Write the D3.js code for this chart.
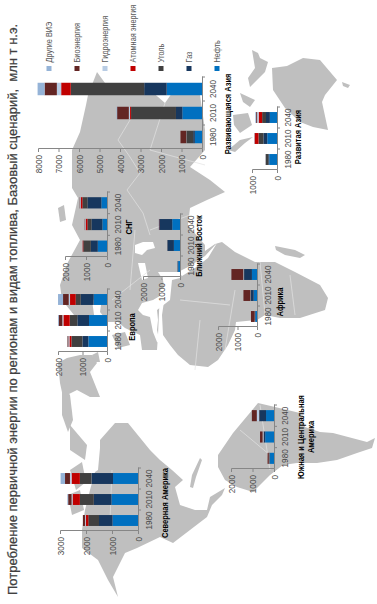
<!DOCTYPE html>
<html>
<head>
<meta charset="utf-8">
<script src="https://cdn.jsdelivr.net/npm/d3@7"></script>
<style>
  html, body { margin: 0; padding: 0; background: #fff; }
  svg { display: block; font-family: "Liberation Sans", Arial, sans-serif; }
  .axis path, .axis line { stroke: #868686; }
  .axis text { fill: #4a4a4a; font-size: 9.5px; }
</style>
</head>
<body>
<div id="chart"></div>
<script>
var width = 377, height = 604;

var titleText = "Потребление первичной энергии по регионам и видам топлива, Базовый сценарий,\u00a0\u00a0млн т н.э.";
var years = ["1980", "2010", "2040"];

// stack order, from the axis outwards
var fuels = ["Нефть", "Газ", "Уголь", "Атомная энергия", "Гидроэнергия", "Биоэнергия", "Другие ВИЭ"];
var fuelColors = ["#0070C0", "#17375E", "#404040", "#C00000", "#B8CCE4", "#632523", "#95B3D7"];
var legendOrder = ["Другие ВИЭ", "Биоэнергия", "Гидроэнергия", "Атомная энергия", "Уголь", "Газ", "Нефть"];

// Mtoe per year, same order as fuels
var northAmerica = [[980, 520, 410, 100, 30, 80, 0], [1020, 680, 536, 280, 40, 130, 30], [960, 830, 447, 320, 60, 190, 170]];
var europe = [[760, 245, 450, 80, 40, 40, 5], [735, 476, 310, 260, 40, 150, 30], [544, 530, 205, 230, 55, 230, 205]];
var cis = [[440, 330, 360, 30, 10, 5, 0], [220, 520, 190, 80, 30, 20, 0], [270, 660, 240, 80, 30, 20, 5]];
var middleEast = [[100, 30, 0, 0, 5, 5, 0], [330, 350, 5, 0, 5, 5, 0], [420, 700, 5, 10, 5, 5, 5]];
var africa = [[90, 15, 10, 0, 5, 190, 0], [170, 140, 30, 5, 10, 340, 0], [260, 400, 30, 5, 20, 600, 5]];
var southAmerica = [[185, 30, 10, 0, 15, 60, 0], [410, 60, 15, 5, 40, 120, 0], [370, 310, 15, 5, 100, 230, 5]];
var developedAsia = [[310, 40, 100, 0, 15, 5, 0], [390, 155, 195, 155, 15, 5, 0], [285, 155, 155, 140, 60, 40, 30]];
var developingAsia = [[350, 80, 330, 0, 10, 280, 0], [960, 310, 2190, 50, 60, 570, 30], [1720, 1100, 3580, 470, 210, 600, 340]];

var panels = [
  { name: ["Северная Америка"], data: northAmerica, axisY: 531, len: 63, baseX: 138, topX: 60, max: 3000, labelX: 165, labelY: 503 },
  { name: ["Европа"], data: europe, axisY: 352, len: 63, baseX: 107, topX: 58, max: 2000, labelX: 132, labelY: 327 },
  { name: ["СНГ"], data: cis, axisY: 257, len: 65, baseX: 107, topX: 65, max: 2000, labelX: 129, labelY: 227 },
  { name: ["Ближний Восток"], data: middleEast, axisY: 277, len: 63, baseX: 180, topX: 143, max: 2000, labelX: 199, labelY: 246 },
  { name: ["Африка"], data: africa, axisY: 327, len: 63, baseX: 257, topX: 218, max: 2000, labelX: 280, labelY: 302 },
  { name: ["Южная и Центральная", "Америка"], data: southAmerica, axisY: 469, len: 64, baseX: 274, topX: 231, max: 2000, labelX: 301, labelY: 437 },
  { name: ["Развитая Азия"], data: developedAsia, axisY: 170, len: 63, baseX: 277, topX: 252, max: 1000, labelX: 298, labelY: 137 },
  { name: ["Развивающаяся Азия"], data: developingAsia, axisY: 149, len: 72, baseX: 202, topX: 38, max: 8000, labelX: 228, labelY: 114 }
];

// background map, traced by hand in page pixels
var land = [
  // Eurasia
  [[97,72],[105,83],[135,83],[150,90],[165,103],[172,93],[190,85],[200,95],[205,130],[205,150],[190,167],[210,180],[225,192],[207,200],[190,208],[188,225],[198,237],[205,245],[205,255],[190,265],[175,280],[160,290],[158,335],[157,350],[142,350],[140,335],[125,328],[118,322],[108,322],[100,312],[102,298],[92,300],[95,322],[78,320],[62,300],[60,285],[68,262],[80,240],[72,225],[78,198],[72,188],[72,150],[80,132],[86,105],[88,95]],
  // Africa
  [[165,295],[165,280],[178,272],[195,258],[215,244],[222,242],[235,252],[255,262],[275,262],[295,272],[320,285],[328,298],[325,310],[300,318],[280,318],[265,315],[257,320],[236,322],[235,330],[228,345],[218,360],[208,367],[190,365],[178,355],[170,345],[163,335],[162,315]],
  // North America
  [[118,597],[108,580],[98,560],[82,548],[82,530],[85,510],[90,490],[95,472],[98,470],[100,448],[100,440],[115,423],[128,423],[150,450],[160,460],[172,470],[183,480],[175,487],[180,505],[195,510],[207,510],[210,497],[225,488],[222,495],[212,505],[207,517],[190,530],[173,543],[160,537],[137,548],[125,553],[113,577]],
  // South America
  [[218,467],[218,455],[233,433],[258,403],[275,407],[300,413],[305,427],[320,432],[333,433],[367,442],[375,438],[372,448],[357,453],[337,460],[317,463],[297,463],[283,465],[270,475],[253,492],[237,487],[225,480]],
  // Greenland, Ellesmere
  [[58,363],[67,358],[80,355],[92,355],[97,363],[90,372],[100,397],[90,397],[77,390],[63,397],[60,383]],
  [[62,385],[70,395],[73,420],[68,432],[62,415]],
  // Australia, New Zealand
  [[272,68],[287,66],[303,58],[320,60],[337,80],[325,95],[322,102],[328,130],[313,127],[300,122],[285,108],[273,90]],
  [[342,82],[350,85],[348,88],[343,86]],
  // Madagascar
  [[275,246],[295,250],[305,255],[300,258],[285,255],[276,250]],
  // New Guinea, Borneo, Sumatra and smaller islands
  [[252,50],[258,53],[260,58],[268,62],[265,72],[250,87],[248,78],[255,68]],
  [[233,115],[248,113],[252,125],[240,133],[234,125]],
  [[228,150],[240,140],[253,137],[245,143],[235,152]],
  [[240,93],[255,100],[250,107],[243,102]],
  [[112,335],[125,332],[130,345],[118,348]],
  [[92,355],[98,352],[100,362],[94,362]],
  // Canadian islands, Cuba
  [[70,425],[87,445],[85,460],[70,450]],
  [[70,470],[82,462],[86,482],[76,490]],
  [[68,495],[80,490],[84,510],[72,515]],
  [[190,487],[192,475],[200,458],[202,460],[196,477],[193,488]],
  [[58,208],[64,205],[66,220],[60,222]]
];
var water = [
  [[135,245],[143,242],[153,242],[155,248],[147,250],[142,255],[135,253]],
  [[138,263],[145,263],[148,278],[142,280]],
  [[158,272],[180,272],[180,278],[172,280],[170,300],[157,310],[158,320],[157,330],[160,343],[157,342],[153,332],[150,317],[143,315],[138,310],[142,303],[153,300],[165,293],[163,280]],
  [[178,272],[190,266],[205,256],[217,243],[208,258],[195,268],[182,276]]
];
var borders = [
  [[110,520],[112,470]], [[165,533],[165,485]],
  [[195,370],[200,320]], [[225,350],[235,290]], [[180,300],[230,305]], [[260,262],[265,315]], [[290,275],[295,315]],
  [[130,120],[118,140],[130,157],[140,173],[127,190],[143,213]], [[130,290],[135,230]], [[112,300],[150,270]], [[150,230],[190,215]], [[150,150],[165,103]], [[150,150],[205,165]], [[143,213],[150,235]],
  [[260,405],[270,470]], [[300,415],[300,462]], [[240,430],[270,455]]
];

var svg = d3.select("#chart")
  .append("svg")
  .attr("width", width)
  .attr("height", height);

// map
var mapLine = d3.line().curve(d3.curveLinearClosed);
var borderLine = d3.line();

svg.append("g")
  .selectAll("path")
  .data(land)
  .enter()
  .append("path")
  .attr("d", d => mapLine(d))
  .attr("fill", "#BFBFBF");

svg.append("g")
  .selectAll("path")
  .data(water)
  .enter()
  .append("path")
  .attr("d", d => mapLine(d))
  .attr("fill", "#fff");

svg.append("g")
  .selectAll("path")
  .data(borders)
  .enter()
  .append("path")
  .attr("d", d => borderLine(d))
  .attr("fill", "none")
  .attr("stroke", "#E2E2E2")
  .attr("stroke-width", 0.7);

// the whole chart is on its side: x runs up the page, y runs across it
var chart = svg.append("g")
  .attr("transform", `translate(0,${height}) rotate(-90)`);

chart.append("text")
  .attr("x", 9)
  .attr("y", 17)
  .attr("fill", "#404040")
  .attr("stroke", "#404040")
  .attr("stroke-width", 0.25)
  .style("font-size", "13px")
  .text(titleText);

var stack = d3.stack()
  .keys(d3.range(fuels.length))
  .value((d, key) => d[key]);

panels.forEach(function(p) {
  var left = height - p.axisY;

  var xScale = d3.scaleBand()
    .domain(years)
    .range([left, left + p.len])
    .paddingInner(0.48)
    .paddingOuter(0.24);

  var yScale = d3.scaleLinear()
    .domain([0, p.max])
    .range([p.baseX, p.topX]);

  var g = chart.append("g");

  g.selectAll(".layer")
    .data(stack(p.data))
    .enter()
    .append("g")
    .attr("fill", (d, i) => fuelColors[i])
    .selectAll("rect")
    .data(d => d)
    .enter()
    .append("rect")
    .attr("x", (d, i) => xScale(years[i]))
    .attr("width", xScale.bandwidth())
    .attr("y", d => yScale(d[1]))
    .attr("height", d => yScale(d[0]) - yScale(d[1]));

  // Render Y axis
  g.append("g")
    .attr("class", "axis")
    .attr("transform", `translate(${left},0)`)
    .call(d3.axisLeft(yScale)
      .tickValues(d3.range(0, p.max + 1, 1000))
      .tickFormat(d => d)
      .tickSize(3)
      .tickPadding(4))
    .selectAll("text")
    .attr("dy", "0.35em")
    .attr("transform", "scale(0.86,1)");

  // Render X axis, ticks go between the bars
  var xAxis = g.append("g")
    .attr("class", "axis")
    .attr("transform", `translate(0,${p.baseX})`)
    .call(d3.axisBottom(xScale)
      .tickSize(0)
      .tickPadding(7));

  xAxis.selectAll("text")
    .attr("transform", "scale(0.86,1)");

  xAxis.selectAll(".sep")
    .data(d3.range(1, years.length + 1))
    .enter()
    .append("line")
    .attr("class", "sep")
    .attr("x1", i => left + i * p.len / years.length)
    .attr("x2", i => left + i * p.len / years.length)
    .attr("y1", 0)
    .attr("y2", 3);

  // region name
  p.name.forEach(function(line, i) {
    chart.append("text")
      .attr("transform", `translate(${height - p.labelY},${p.labelX + i * 10.5}) scale(0.88,1)`)
      .attr("text-anchor", "middle")
      .attr("dy", "0.35em")
      .attr("fill", "#000")
      .style("font-size", "8.5px")
      .style("font-weight", "bold")
      .text(line);
  });
});

// legend
var legendScale = d3.scalePoint()
  .domain(legendOrder)
  .range([49, 217]);

var legend = chart.selectAll(".legend")
  .data(legendOrder)
  .enter()
  .append("g")
  .attr("class", "legend")
  .attr("transform", d => `translate(${height - 71},${legendScale(d)})`);

legend.append("rect")
  .attr("y", -2.5)
  .attr("width", 5)
  .attr("height", 5)
  .attr("fill", d => fuelColors[fuels.indexOf(d)]);

legend.append("text")
  .attr("x", 10)
  .attr("dy", "0.35em")
  .attr("fill", "#595959")
  .attr("transform", "scale(0.86,1)")
  .style("font-size", "8.5px")
  .text(d => d);
</script>
</body>
</html>
